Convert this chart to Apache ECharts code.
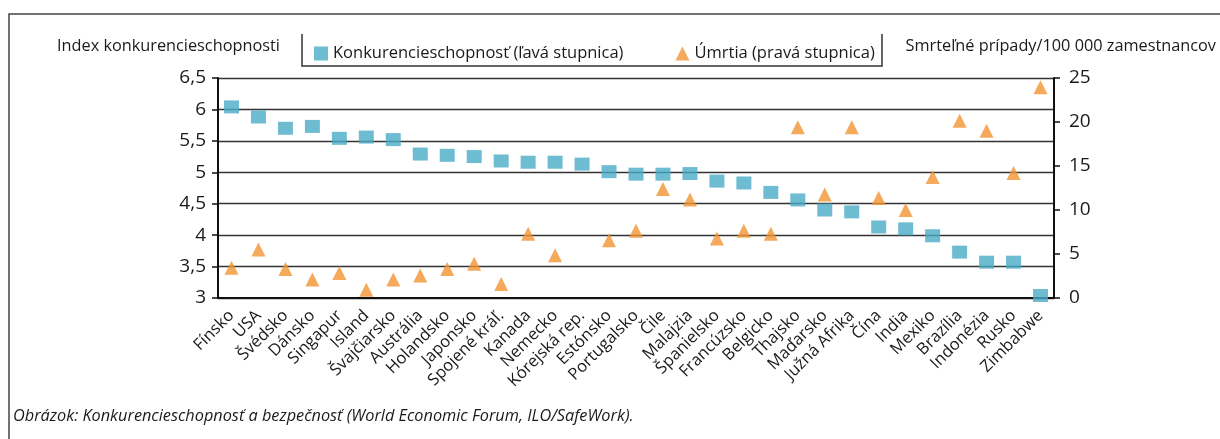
<!DOCTYPE html>
<html>
<head>
<meta charset="utf-8">
<title>Konkurencieschopnosť a bezpečnosť</title>
<style>
body{margin:0;padding:0;background:#fff;}
#main{width:1220px;height:439px;}
</style>
</head>
<body>
<div id="main"></div>
<script src="https://cdn.jsdelivr.net/npm/echarts@6.0.0/dist/echarts.min.js"></script>
<script>
var countries=['Fínsko','USA','Švédsko','Dánsko','Singapur','Island','Švajčiarsko','Austrália','Holandsko','Japonsko','Spojené kráľ.','Kanada','Nemecko','Kórejská rep.','Estónsko','Portugalsko','Čile','Malajzia','Španielsko','Francúzsko','Belgicko','Thajsko','Maďarsko','Južná Afrika','Čína','India','Mexiko','Brazília','Indonézia','Rusko','Zimbabwe'];
// index konkurencieschopnosti (lava stupnica)
var competitiveness=[6.04,5.88,5.70,5.73,5.54,5.56,5.52,5.29,5.27,5.25,5.18,5.16,5.16,5.13,5.01,4.97,4.97,4.98,4.86,4.83,4.68,4.56,4.40,4.37,4.13,4.10,3.99,3.73,3.57,3.57,3.04];
// smrtelne pripady na 100 000 zamestnancov (prava stupnica)
var deaths=[3.45,5.5,3.3,2.1,2.85,0.95,2.1,2.55,3.3,3.9,1.6,7.3,4.85,null,6.55,7.65,12.4,11.2,6.75,7.65,7.3,19.4,11.75,19.4,11.35,10.0,13.75,20.15,19.0,14.2,23.95];
var leftTicks=[3,6.5,0.5];
var rightTicks=[0,25,5];
var blue='#4aabc6';
var orange='#f29431';
var ink='#1a1a1a';
var font="'Open Sans', sans-serif";

var myChart=echarts.init(document.getElementById('main'));
var option={
  animation:false,
  textStyle:{fontFamily:font},
  legend:{
    left:309,
    top:40,
    itemWidth:14,
    itemHeight:14,
    itemGap:52,
    textStyle:{fontSize:16.5,color:ink,fontFamily:font},
    data:[
      {name:'Konkurencieschopnosť (ľavá stupnica)',icon:'rect'},
      {name:'Úmrtia (pravá stupnica)',icon:'triangle'}
    ]
  },
  grid:{left:218,right:166,top:78,bottom:141},
  xAxis:{
    type:'category',
    data:countries,
    boundaryGap:true,
    axisLine:{lineStyle:{color:'#111',width:2}},
    axisTick:{alignWithLabel:true,length:5,lineStyle:{color:'#111',width:1.5}},
    axisLabel:{interval:0,rotate:45,fontSize:16.5,color:ink,margin:15,fontFamily:font},
    splitLine:{show:false}
  },
  yAxis:[
    {
      type:'value',
      min:leftTicks[0],
      max:leftTicks[1],
      interval:leftTicks[2],
      axisLine:{show:true,lineStyle:{color:'#111',width:2}},
      axisTick:{show:true,length:6,lineStyle:{color:'#111',width:1.5}},
      axisLabel:{fontSize:19,color:ink,margin:12,fontFamily:font,
        formatter:function(v){return String(v).replace('.',',');}},
      splitLine:{lineStyle:{color:'#333',width:1.3}}
    },
    {
      type:'value',
      min:rightTicks[0],
      max:rightTicks[1],
      interval:rightTicks[2],
      position:'right',
      axisLine:{show:true,lineStyle:{color:'#111',width:2}},
      axisTick:{show:true,length:6,lineStyle:{color:'#111',width:1.5}},
      axisLabel:{fontSize:19,color:ink,margin:15,fontFamily:font},
      splitLine:{show:false}
    }
  ],
  graphic:[
    {type:'polyline',shape:{points:[[9,439],[9,14],[1220,14]]},style:{stroke:'#444',lineWidth:1.5,fill:null}},
    {type:'polyline',shape:{points:[[302,34],[302,66],[882,66],[882,34]]},style:{stroke:'#333',lineWidth:1.5,fill:null}},
    {type:'text',left:57,top:38,style:{text:'Index konkurencieschopnosti',fontSize:16.3,fill:ink,fontFamily:font}},
    {type:'text',right:4,top:38,style:{text:'Smrteľné prípady/100 000 zamestnancov',fontSize:16.3,fill:ink,fontFamily:font}},
    {type:'text',left:13,top:408,style:{text:'Obrázok: Konkurencieschopnosť a bezpečnosť (World Economic Forum, ILO/SafeWork).',fontSize:16.3,fontStyle:'italic',fill:ink,fontFamily:font}}
  ],
  series:[
    {
      name:'Konkurencieschopnosť (ľavá stupnica)',
      type:'scatter',
      yAxisIndex:0,
      symbol:'rect',
      symbolSize:[15,13],
      itemStyle:{color:blue},
      data:competitiveness
    },
    {
      name:'Úmrtia (pravá stupnica)',
      type:'scatter',
      yAxisIndex:1,
      symbol:'triangle',
      symbolSize:14,
      itemStyle:{color:orange},
      data:deaths
    }
  ]
};
myChart.setOption(option);
</script>
</body>
</html>
